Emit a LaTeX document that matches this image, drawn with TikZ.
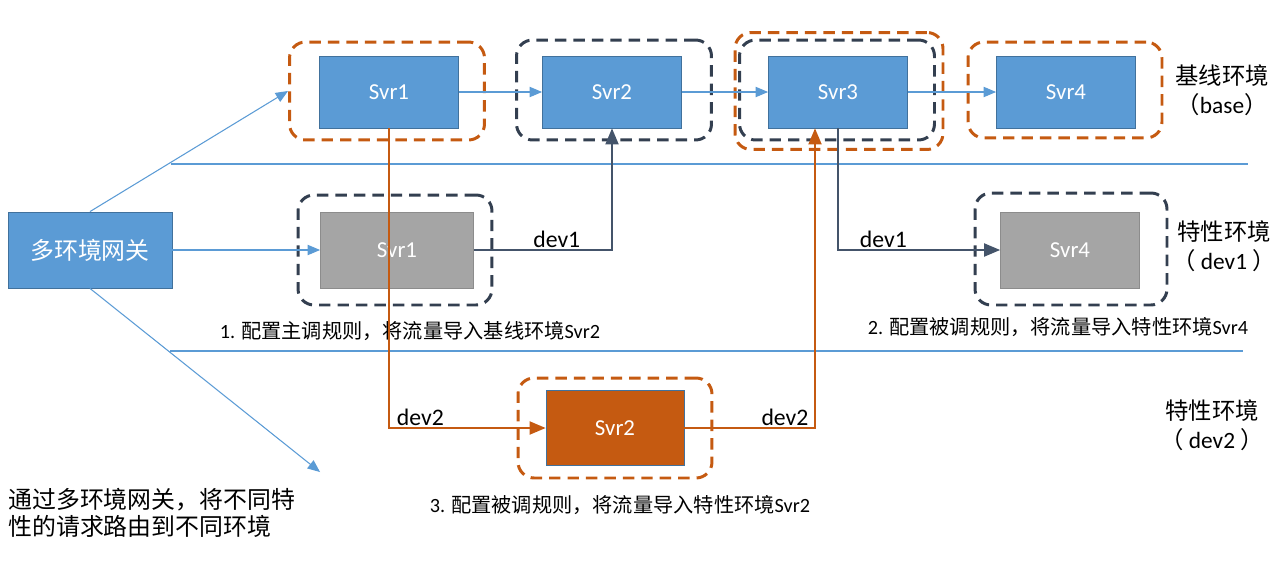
\documentclass[tikz,border=0pt]{standalone}
\usepackage{fontspec}
\setmainfont{Carlito}
\newfontfamily\cjk{Noto Sans CJK SC}
\usetikzlibrary{positioning}
\usetikzlibrary{arrows}

\definecolor{svrblue}{HTML}{5B9BD5}
\definecolor{svredge}{HTML}{41719C}
\definecolor{svrgray}{HTML}{A5A5A5}
\definecolor{grayedge}{HTML}{8C8C8C}
\definecolor{svrorange}{HTML}{C55A11}
\definecolor{slate}{HTML}{333F50}
\definecolor{devslate}{HTML}{44546A}

\tikzset{
  svr/.style={draw=svredge, line width=0.5pt, fill=svrblue, text=white,
    minimum width=2.78cm, minimum height=1.44cm, font=\fontsize{13}{15}\selectfont},
  svrgrey/.style={svr, draw=grayedge, fill=svrgray, minimum height=1.52cm},
  svrdev/.style={svr, fill=svrorange, minimum width=2.76cm, minimum height=1.5cm},
  grp/.style={line width=1.7pt, dash pattern=on 6.5pt off 4pt, rounded corners=0.32cm,
    minimum width=3.9cm, minimum height=2cm, inner sep=0pt},
  grporange/.style={grp, draw=svrorange},
  grpslate/.style={grp, draw=slate},
  flow/.style={svrblue, line width=0.6pt, ->},
  devone/.style={devslate, line width=1.1pt, ->},
  devtwo/.style={svrorange, line width=1.1pt, ->},
  tag/.style={font=\fontsize{13.5}{16}\selectfont, text=black, inner sep=1pt},
  envlabel/.style={font=\fontsize{13.3}{16.5}\selectfont, align=center},
  rule/.style={font=\fontsize{11.5}{14}\selectfont}
}

\begin{document}
\begin{tikzpicture}[>=triangle 45, x=0.02cm, y=-0.02cm]
    \useasboundingbox (0,0) rectangle (1280,578);

    % gateway
    \node[svr, minimum width=3.28cm, minimum height=1.52cm, font=\fontsize{13.6}{16}\selectfont] (gw) at (90,250) {\cjk 多环境网关};

    % base environment
    \node[svr] (s1) at (389,92) {Svr1};
    \node[svr] (s2) at (612,92) {Svr2};
    \node[svr] (s3) at (838,92) {Svr3};
    \node[svr] (s4) at (1066,92) {Svr4};
    \node[grporange, minimum height=1.96cm] (g1) at (387,91) {};
    \node[grpslate] (g2) at (614,90) {};
    \node[grpslate] (g3) at (837,90) {};
    \node[grporange, minimum width=4.16cm, minimum height=2.34cm] (g3o) at (839,91) {};
    \node[grporange, minimum width=3.88cm, minimum height=1.92cm] (g4) at (1065,90) {};
    \node[envlabel] (lbase) at (1222,90) {{\cjk 基线环境}\\{\cjk （}base{\cjk ）}};

    % dev1 environment
    \node[svrgrey, minimum width=3.06cm] (d1s1) at (397,250) {Svr1};
    \node[svrgrey] (d1s4) at (1070,250) {Svr4};
    \node[grpslate, minimum width=3.88cm, minimum height=2.2cm] (g5) at (395,250) {};
    \node[grpslate, minimum width=3.84cm, minimum height=2.24cm] (g6) at (1071,249) {};
    \node[envlabel] (ldev1) at (1224,246) {{\cjk 特性环境}\\{\cjk （} dev1 {\cjk ）}};

    % dev2 environment
    \node[svrdev] (d2s2) at (615,428) {Svr2};
    \node[grporange, minimum width=3.88cm] (g7) at (615,428) {};
    \node[envlabel] (ldev2) at (1212,425) {{\cjk 特性环境}\\{\cjk （} dev2 {\cjk ）}};

    % rules and note
    \node[rule] (r1) at (410,331) {1. {\cjk 配置主调规则，将流量导入基线环境}Svr2};
    \node[rule] (r2) at (1058,327) {2. {\cjk 配置被调规则，将流量导入特性环境}Svr4};
    \node[rule] (r3) at (620,505) {3. {\cjk 配置被调规则，将流量导入特性环境}Svr2};
    \node[font=\fontsize{13.6}{15.5}\selectfont, align=left, anchor=north west, inner sep=0pt] (note) at (8,488)
        {{\cjk 通过多环境网关，将不同特}\\{\cjk 性的请求路由到不同环境}};

    % environment separators
    \draw[svrblue, line width=0.6pt] (171,164) -- (1248,164);
    \draw[svrblue, line width=0.6pt] (170,351) -- (1243,351);

    % gateway routes
    \coordinate (gwend) at (320,472);
    \draw[flow] (gw.north) -- (g1.west);
    \draw[flow] (gw.east) -- (d1s1.west);
    \draw[flow] (gw.south) -- (gwend);

    % base chain
    \draw[flow] (s1) -- (s2);
    \draw[flow] (s2) -- (s3);
    \draw[flow] (s3) -- (s4);

    % dev1 routes
    \draw[devone] (d1s1.east) -| node[tag, above, pos=0.3] {dev1} (s2.south);
    \draw[devone] (s3.south) |- node[tag, above, pos=0.64] {dev1} (d1s4.west);

    % dev2 routes
    \draw[devtwo] (s1.south) |- node[tag, above, pos=0.6] {dev2} (d2s2.west);
    \draw[devtwo] (d2s2.east) -| node[tag, above, pos=0.385] {dev2} ([xshift=-0.46cm]s3.south);
\end{tikzpicture}
\end{document}
